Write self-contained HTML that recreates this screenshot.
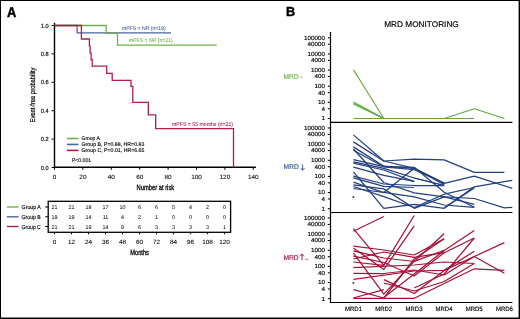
<!DOCTYPE html>
<html><head><meta charset="utf-8"><style>
html,body{margin:0;padding:0;background:#fff;}
svg{display:block;font-family:"Liberation Sans",sans-serif;will-change:transform;text-rendering:geometricPrecision;}
</style></head><body>
<svg width="520" height="319" viewBox="0 0 520 319">
<rect width="520" height="319" fill="#fff"/>
<rect x="0" y="0" width="520" height="319" fill="#000"/><rect x="1" y="1" width="517.6" height="316.5" fill="#fff"/>
<text x="6.90" y="16.70" font-size="14.2" fill="#000" stroke="#000" stroke-width="0.45" text-anchor="start" font-weight="bold" textLength="9.30" lengthAdjust="spacingAndGlyphs">A</text>
<text x="285.90" y="16.20" font-size="13.0" fill="#000" stroke="#000" stroke-width="0.45" text-anchor="start" font-weight="bold" textLength="9.20" lengthAdjust="spacingAndGlyphs">B</text>
<line x1="54.50" y1="22.70" x2="54.50" y2="168.20" stroke="#000" stroke-width="1.4"/>
<line x1="53.80" y1="167.20" x2="255.90" y2="167.20" stroke="#000" stroke-width="1.4"/>
<line x1="51.60" y1="167.50" x2="54.50" y2="167.50" stroke="#000" stroke-width="1.0"/>
<text x="48.60" y="169.60" font-size="6.1" fill="#000" stroke="#000" stroke-width="0.15" text-anchor="end" font-weight="normal" textLength="7.80" lengthAdjust="spacingAndGlyphs">0.0</text>
<line x1="51.60" y1="139.10" x2="54.50" y2="139.10" stroke="#000" stroke-width="1.0"/>
<text x="48.60" y="141.20" font-size="6.1" fill="#000" stroke="#000" stroke-width="0.15" text-anchor="end" font-weight="normal" textLength="7.80" lengthAdjust="spacingAndGlyphs">0.2</text>
<line x1="51.60" y1="110.70" x2="54.50" y2="110.70" stroke="#000" stroke-width="1.0"/>
<text x="48.60" y="112.80" font-size="6.1" fill="#000" stroke="#000" stroke-width="0.15" text-anchor="end" font-weight="normal" textLength="7.80" lengthAdjust="spacingAndGlyphs">0.4</text>
<line x1="51.60" y1="82.30" x2="54.50" y2="82.30" stroke="#000" stroke-width="1.0"/>
<text x="48.60" y="84.40" font-size="6.1" fill="#000" stroke="#000" stroke-width="0.15" text-anchor="end" font-weight="normal" textLength="7.80" lengthAdjust="spacingAndGlyphs">0.6</text>
<line x1="51.60" y1="53.90" x2="54.50" y2="53.90" stroke="#000" stroke-width="1.0"/>
<text x="48.60" y="56.00" font-size="6.1" fill="#000" stroke="#000" stroke-width="0.15" text-anchor="end" font-weight="normal" textLength="7.80" lengthAdjust="spacingAndGlyphs">0.8</text>
<line x1="51.60" y1="25.50" x2="54.50" y2="25.50" stroke="#000" stroke-width="1.0"/>
<text x="48.60" y="27.60" font-size="6.1" fill="#000" stroke="#000" stroke-width="0.15" text-anchor="end" font-weight="normal" textLength="7.80" lengthAdjust="spacingAndGlyphs">1.0</text>
<line x1="54.50" y1="167.50" x2="54.50" y2="169.80" stroke="#000" stroke-width="1.0"/>
<text x="54.50" y="178.90" font-size="6.2" fill="#000" stroke="#000" stroke-width="0.06" text-anchor="middle" font-weight="normal" textLength="3.55" lengthAdjust="spacingAndGlyphs">0</text>
<line x1="82.90" y1="167.50" x2="82.90" y2="169.80" stroke="#000" stroke-width="1.0"/>
<text x="82.90" y="178.90" font-size="6.2" fill="#000" stroke="#000" stroke-width="0.06" text-anchor="middle" font-weight="normal" textLength="7.10" lengthAdjust="spacingAndGlyphs">20</text>
<line x1="111.30" y1="167.50" x2="111.30" y2="169.80" stroke="#000" stroke-width="1.0"/>
<text x="111.30" y="178.90" font-size="6.2" fill="#000" stroke="#000" stroke-width="0.06" text-anchor="middle" font-weight="normal" textLength="7.10" lengthAdjust="spacingAndGlyphs">40</text>
<line x1="139.70" y1="167.50" x2="139.70" y2="169.80" stroke="#000" stroke-width="1.0"/>
<text x="139.70" y="178.90" font-size="6.2" fill="#000" stroke="#000" stroke-width="0.06" text-anchor="middle" font-weight="normal" textLength="7.10" lengthAdjust="spacingAndGlyphs">60</text>
<line x1="168.10" y1="167.50" x2="168.10" y2="169.80" stroke="#000" stroke-width="1.0"/>
<text x="168.10" y="178.90" font-size="6.2" fill="#000" stroke="#000" stroke-width="0.06" text-anchor="middle" font-weight="normal" textLength="7.10" lengthAdjust="spacingAndGlyphs">80</text>
<line x1="196.50" y1="167.50" x2="196.50" y2="169.80" stroke="#000" stroke-width="1.0"/>
<text x="196.50" y="178.90" font-size="6.2" fill="#000" stroke="#000" stroke-width="0.06" text-anchor="middle" font-weight="normal" textLength="10.65" lengthAdjust="spacingAndGlyphs">100</text>
<line x1="224.90" y1="167.50" x2="224.90" y2="169.80" stroke="#000" stroke-width="1.0"/>
<text x="224.90" y="178.90" font-size="6.2" fill="#000" stroke="#000" stroke-width="0.06" text-anchor="middle" font-weight="normal" textLength="10.65" lengthAdjust="spacingAndGlyphs">120</text>
<line x1="253.30" y1="167.50" x2="253.30" y2="169.80" stroke="#000" stroke-width="1.0"/>
<text x="253.30" y="178.90" font-size="6.2" fill="#000" stroke="#000" stroke-width="0.06" text-anchor="middle" font-weight="normal" textLength="10.65" lengthAdjust="spacingAndGlyphs">140</text>
<text transform="translate(35.0,95) rotate(-90)" x="0" y="0" font-size="7" stroke="#000" stroke-width="0.22" text-anchor="middle" textLength="55" lengthAdjust="spacingAndGlyphs">Event-free probability</text>
<text x="136.60" y="190.40" font-size="7.7" fill="#000" stroke="#000" stroke-width="0.3" text-anchor="start" font-weight="normal" textLength="37.60" lengthAdjust="spacingAndGlyphs">Number at risk</text>
<path d="M54.5 25.5 H77.1 V32.8 H171" fill="none" stroke="#4a669c" stroke-width="1.3"/>
<path d="M54.5 25.5 H106.1 V33.3 H117.5 V45.2 H216.8" fill="none" stroke="#6fb04a" stroke-width="1.3"/>
<path d="M54.5 25.5 H81.4 V39 H89.4 V45.9 H90.1 V52.8 H91.1 V59.5 H92.2 V66.2 H106.7 V73.3 H112.2 V80.4 H131 V86.4 H132.8 V102.4 H148.3 V114.9 H155.7 V128.6 H233.5 V167.5" fill="none" stroke="#ae1f45" stroke-width="1.3"/>
<text x="121.90" y="30.20" font-size="5.4" fill="#4a669c" stroke="#4a669c" stroke-width="0.08" text-anchor="start" font-weight="normal" textLength="43.80" lengthAdjust="spacingAndGlyphs">mPFS = NR (n=19)</text>
<text x="128.80" y="42.10" font-size="5.4" fill="#6fb04a" stroke="#6fb04a" stroke-width="0.08" text-anchor="start" font-weight="normal" textLength="43.90" lengthAdjust="spacingAndGlyphs">mPFS = NR (n=21)</text>
<text x="172.00" y="125.60" font-size="5.4" fill="#ae1f45" stroke="#ae1f45" stroke-width="0.08" text-anchor="start" font-weight="normal" textLength="61.00" lengthAdjust="spacingAndGlyphs">mPFS = 55 months (n=21)</text>
<line x1="66.90" y1="138.50" x2="78.50" y2="138.50" stroke="#6fb04a" stroke-width="1.6"/>
<text x="81.50" y="140.40" font-size="5.4" fill="#000" stroke="#000" stroke-width="0.13" text-anchor="start" font-weight="normal" textLength="18.34" lengthAdjust="spacingAndGlyphs">Group A</text>
<line x1="66.90" y1="144.45" x2="78.50" y2="144.45" stroke="#4a669c" stroke-width="1.6"/>
<text x="81.50" y="146.35" font-size="5.4" fill="#000" stroke="#000" stroke-width="0.13" text-anchor="start" font-weight="normal" textLength="62.88" lengthAdjust="spacingAndGlyphs">Group B, P=0.88, HR=0.83</text>
<line x1="66.90" y1="150.40" x2="78.50" y2="150.40" stroke="#ae1f45" stroke-width="1.6"/>
<text x="81.50" y="152.30" font-size="5.4" fill="#000" stroke="#000" stroke-width="0.13" text-anchor="start" font-weight="normal" textLength="62.88" lengthAdjust="spacingAndGlyphs">Group C, P=0.01, HR=6.65</text>
<text x="71.90" y="162.00" font-size="5.4" fill="#000" stroke="#000" stroke-width="0.13" text-anchor="start" font-weight="normal" textLength="19.30" lengthAdjust="spacingAndGlyphs">P&lt;0.001</text>
<rect x="48.2" y="201.3" width="182.4" height="31" fill="none" stroke="#000" stroke-width="1.3"/>
<line x1="45.20" y1="207.00" x2="48.20" y2="207.00" stroke="#000" stroke-width="1.0"/>
<line x1="6.90" y1="207.00" x2="18.60" y2="207.00" stroke="#6fb04a" stroke-width="1.4"/>
<text x="21.60" y="209.00" font-size="5.8" fill="#000" stroke="#000" stroke-width="0.15" text-anchor="start" font-weight="normal" textLength="19.20" lengthAdjust="spacingAndGlyphs">Group A</text>
<text x="54.50" y="209.00" font-size="5.4" fill="#000" stroke="#000" stroke-width="0.03" text-anchor="middle" font-weight="normal">21</text>
<text x="71.51" y="209.00" font-size="5.4" fill="#000" stroke="#000" stroke-width="0.03" text-anchor="middle" font-weight="normal">21</text>
<text x="88.52" y="209.00" font-size="5.4" fill="#000" stroke="#000" stroke-width="0.03" text-anchor="middle" font-weight="normal">18</text>
<text x="105.53" y="209.00" font-size="5.4" fill="#000" stroke="#000" stroke-width="0.03" text-anchor="middle" font-weight="normal">17</text>
<text x="122.54" y="209.00" font-size="5.4" fill="#000" stroke="#000" stroke-width="0.03" text-anchor="middle" font-weight="normal">10</text>
<text x="139.55" y="209.00" font-size="5.4" fill="#000" stroke="#000" stroke-width="0.03" text-anchor="middle" font-weight="normal">6</text>
<text x="156.56" y="209.00" font-size="5.4" fill="#000" stroke="#000" stroke-width="0.03" text-anchor="middle" font-weight="normal">6</text>
<text x="173.57" y="209.00" font-size="5.4" fill="#000" stroke="#000" stroke-width="0.03" text-anchor="middle" font-weight="normal">5</text>
<text x="190.58" y="209.00" font-size="5.4" fill="#000" stroke="#000" stroke-width="0.03" text-anchor="middle" font-weight="normal">4</text>
<text x="207.59" y="209.00" font-size="5.4" fill="#000" stroke="#000" stroke-width="0.03" text-anchor="middle" font-weight="normal">2</text>
<text x="224.60" y="209.00" font-size="5.4" fill="#000" stroke="#000" stroke-width="0.03" text-anchor="middle" font-weight="normal">0</text>
<line x1="45.20" y1="216.80" x2="48.20" y2="216.80" stroke="#000" stroke-width="1.0"/>
<line x1="6.90" y1="216.80" x2="18.60" y2="216.80" stroke="#4a669c" stroke-width="1.4"/>
<text x="21.60" y="218.80" font-size="5.8" fill="#000" stroke="#000" stroke-width="0.15" text-anchor="start" font-weight="normal" textLength="19.20" lengthAdjust="spacingAndGlyphs">Group B</text>
<text x="54.50" y="218.80" font-size="5.4" fill="#000" stroke="#000" stroke-width="0.03" text-anchor="middle" font-weight="normal">19</text>
<text x="71.51" y="218.80" font-size="5.4" fill="#000" stroke="#000" stroke-width="0.03" text-anchor="middle" font-weight="normal">19</text>
<text x="88.52" y="218.80" font-size="5.4" fill="#000" stroke="#000" stroke-width="0.03" text-anchor="middle" font-weight="normal">14</text>
<text x="105.53" y="218.80" font-size="5.4" fill="#000" stroke="#000" stroke-width="0.03" text-anchor="middle" font-weight="normal">11</text>
<text x="122.54" y="218.80" font-size="5.4" fill="#000" stroke="#000" stroke-width="0.03" text-anchor="middle" font-weight="normal">4</text>
<text x="139.55" y="218.80" font-size="5.4" fill="#000" stroke="#000" stroke-width="0.03" text-anchor="middle" font-weight="normal">2</text>
<text x="156.56" y="218.80" font-size="5.4" fill="#000" stroke="#000" stroke-width="0.03" text-anchor="middle" font-weight="normal">1</text>
<text x="173.57" y="218.80" font-size="5.4" fill="#000" stroke="#000" stroke-width="0.03" text-anchor="middle" font-weight="normal">0</text>
<text x="190.58" y="218.80" font-size="5.4" fill="#000" stroke="#000" stroke-width="0.03" text-anchor="middle" font-weight="normal">0</text>
<text x="207.59" y="218.80" font-size="5.4" fill="#000" stroke="#000" stroke-width="0.03" text-anchor="middle" font-weight="normal">0</text>
<text x="224.60" y="218.80" font-size="5.4" fill="#000" stroke="#000" stroke-width="0.03" text-anchor="middle" font-weight="normal">0</text>
<line x1="45.20" y1="226.50" x2="48.20" y2="226.50" stroke="#000" stroke-width="1.0"/>
<line x1="6.90" y1="226.50" x2="18.60" y2="226.50" stroke="#ae1f45" stroke-width="1.4"/>
<text x="21.60" y="228.50" font-size="5.8" fill="#000" stroke="#000" stroke-width="0.15" text-anchor="start" font-weight="normal" textLength="19.20" lengthAdjust="spacingAndGlyphs">Group C</text>
<text x="54.50" y="228.50" font-size="5.4" fill="#000" stroke="#000" stroke-width="0.03" text-anchor="middle" font-weight="normal">21</text>
<text x="71.51" y="228.50" font-size="5.4" fill="#000" stroke="#000" stroke-width="0.03" text-anchor="middle" font-weight="normal">21</text>
<text x="88.52" y="228.50" font-size="5.4" fill="#000" stroke="#000" stroke-width="0.03" text-anchor="middle" font-weight="normal">19</text>
<text x="105.53" y="228.50" font-size="5.4" fill="#000" stroke="#000" stroke-width="0.03" text-anchor="middle" font-weight="normal">14</text>
<text x="122.54" y="228.50" font-size="5.4" fill="#000" stroke="#000" stroke-width="0.03" text-anchor="middle" font-weight="normal">9</text>
<text x="139.55" y="228.50" font-size="5.4" fill="#000" stroke="#000" stroke-width="0.03" text-anchor="middle" font-weight="normal">6</text>
<text x="156.56" y="228.50" font-size="5.4" fill="#000" stroke="#000" stroke-width="0.03" text-anchor="middle" font-weight="normal">3</text>
<text x="173.57" y="228.50" font-size="5.4" fill="#000" stroke="#000" stroke-width="0.03" text-anchor="middle" font-weight="normal">3</text>
<text x="190.58" y="228.50" font-size="5.4" fill="#000" stroke="#000" stroke-width="0.03" text-anchor="middle" font-weight="normal">3</text>
<text x="207.59" y="228.50" font-size="5.4" fill="#000" stroke="#000" stroke-width="0.03" text-anchor="middle" font-weight="normal">3</text>
<text x="224.60" y="228.50" font-size="5.4" fill="#000" stroke="#000" stroke-width="0.03" text-anchor="middle" font-weight="normal">1</text>
<line x1="54.50" y1="232.30" x2="54.50" y2="234.30" stroke="#000" stroke-width="1.0"/>
<text x="54.50" y="244.00" font-size="6.2" fill="#000" stroke="#000" stroke-width="0.06" text-anchor="middle" font-weight="normal" textLength="3.55" lengthAdjust="spacingAndGlyphs">0</text>
<line x1="71.51" y1="232.30" x2="71.51" y2="234.30" stroke="#000" stroke-width="1.0"/>
<text x="71.51" y="244.00" font-size="6.2" fill="#000" stroke="#000" stroke-width="0.06" text-anchor="middle" font-weight="normal" textLength="7.10" lengthAdjust="spacingAndGlyphs">12</text>
<line x1="88.52" y1="232.30" x2="88.52" y2="234.30" stroke="#000" stroke-width="1.0"/>
<text x="88.52" y="244.00" font-size="6.2" fill="#000" stroke="#000" stroke-width="0.06" text-anchor="middle" font-weight="normal" textLength="7.10" lengthAdjust="spacingAndGlyphs">24</text>
<line x1="105.53" y1="232.30" x2="105.53" y2="234.30" stroke="#000" stroke-width="1.0"/>
<text x="105.53" y="244.00" font-size="6.2" fill="#000" stroke="#000" stroke-width="0.06" text-anchor="middle" font-weight="normal" textLength="7.10" lengthAdjust="spacingAndGlyphs">36</text>
<line x1="122.54" y1="232.30" x2="122.54" y2="234.30" stroke="#000" stroke-width="1.0"/>
<text x="122.54" y="244.00" font-size="6.2" fill="#000" stroke="#000" stroke-width="0.06" text-anchor="middle" font-weight="normal" textLength="7.10" lengthAdjust="spacingAndGlyphs">48</text>
<line x1="139.55" y1="232.30" x2="139.55" y2="234.30" stroke="#000" stroke-width="1.0"/>
<text x="139.55" y="244.00" font-size="6.2" fill="#000" stroke="#000" stroke-width="0.06" text-anchor="middle" font-weight="normal" textLength="7.10" lengthAdjust="spacingAndGlyphs">60</text>
<line x1="156.56" y1="232.30" x2="156.56" y2="234.30" stroke="#000" stroke-width="1.0"/>
<text x="156.56" y="244.00" font-size="6.2" fill="#000" stroke="#000" stroke-width="0.06" text-anchor="middle" font-weight="normal" textLength="7.10" lengthAdjust="spacingAndGlyphs">72</text>
<line x1="173.57" y1="232.30" x2="173.57" y2="234.30" stroke="#000" stroke-width="1.0"/>
<text x="173.57" y="244.00" font-size="6.2" fill="#000" stroke="#000" stroke-width="0.06" text-anchor="middle" font-weight="normal" textLength="7.10" lengthAdjust="spacingAndGlyphs">84</text>
<line x1="190.58" y1="232.30" x2="190.58" y2="234.30" stroke="#000" stroke-width="1.0"/>
<text x="190.58" y="244.00" font-size="6.2" fill="#000" stroke="#000" stroke-width="0.06" text-anchor="middle" font-weight="normal" textLength="7.10" lengthAdjust="spacingAndGlyphs">96</text>
<line x1="207.59" y1="232.30" x2="207.59" y2="234.30" stroke="#000" stroke-width="1.0"/>
<text x="207.59" y="244.00" font-size="6.2" fill="#000" stroke="#000" stroke-width="0.06" text-anchor="middle" font-weight="normal" textLength="10.65" lengthAdjust="spacingAndGlyphs">108</text>
<line x1="224.60" y1="232.30" x2="224.60" y2="234.30" stroke="#000" stroke-width="1.0"/>
<text x="224.60" y="244.00" font-size="6.2" fill="#000" stroke="#000" stroke-width="0.06" text-anchor="middle" font-weight="normal" textLength="10.65" lengthAdjust="spacingAndGlyphs">120</text>
<text x="130.30" y="255.40" font-size="7.7" fill="#000" stroke="#000" stroke-width="0.3" text-anchor="start" font-weight="normal" textLength="18.60" lengthAdjust="spacingAndGlyphs">Months</text>
<text x="384.20" y="26.90" font-size="8.2" fill="#000" stroke="#000" stroke-width="0.15" text-anchor="start" font-weight="normal" textLength="74.60" lengthAdjust="spacingAndGlyphs">MRD MONITORING</text>
<line x1="330.50" y1="32.00" x2="330.50" y2="302.90" stroke="#000" stroke-width="1.2"/>
<line x1="329.90" y1="122.30" x2="512.40" y2="122.30" stroke="#000" stroke-width="1.15"/>
<line x1="327.80" y1="37.80" x2="330.50" y2="37.80" stroke="#000" stroke-width="1.0"/>
<text x="325.00" y="39.70" font-size="5.9" fill="#000" stroke="#000" stroke-width="0.15" text-anchor="end" font-weight="normal" textLength="21.00" lengthAdjust="spacingAndGlyphs">100000</text>
<line x1="327.80" y1="44.22" x2="330.50" y2="44.22" stroke="#000" stroke-width="1.0"/>
<text x="325.00" y="46.12" font-size="5.9" fill="#000" stroke="#000" stroke-width="0.15" text-anchor="end" font-weight="normal" textLength="17.50" lengthAdjust="spacingAndGlyphs">40000</text>
<line x1="327.80" y1="53.94" x2="330.50" y2="53.94" stroke="#000" stroke-width="1.0"/>
<text x="325.00" y="55.84" font-size="5.9" fill="#000" stroke="#000" stroke-width="0.15" text-anchor="end" font-weight="normal" textLength="17.50" lengthAdjust="spacingAndGlyphs">10000</text>
<line x1="327.80" y1="60.36" x2="330.50" y2="60.36" stroke="#000" stroke-width="1.0"/>
<text x="325.00" y="62.26" font-size="5.9" fill="#000" stroke="#000" stroke-width="0.15" text-anchor="end" font-weight="normal" textLength="14.00" lengthAdjust="spacingAndGlyphs">4000</text>
<line x1="327.80" y1="70.08" x2="330.50" y2="70.08" stroke="#000" stroke-width="1.0"/>
<text x="325.00" y="71.98" font-size="5.9" fill="#000" stroke="#000" stroke-width="0.15" text-anchor="end" font-weight="normal" textLength="14.00" lengthAdjust="spacingAndGlyphs">1000</text>
<line x1="327.80" y1="76.50" x2="330.50" y2="76.50" stroke="#000" stroke-width="1.0"/>
<text x="325.00" y="78.40" font-size="5.9" fill="#000" stroke="#000" stroke-width="0.15" text-anchor="end" font-weight="normal" textLength="10.50" lengthAdjust="spacingAndGlyphs">400</text>
<line x1="327.80" y1="86.22" x2="330.50" y2="86.22" stroke="#000" stroke-width="1.0"/>
<text x="325.00" y="88.12" font-size="5.9" fill="#000" stroke="#000" stroke-width="0.15" text-anchor="end" font-weight="normal" textLength="10.50" lengthAdjust="spacingAndGlyphs">100</text>
<line x1="327.80" y1="92.64" x2="330.50" y2="92.64" stroke="#000" stroke-width="1.0"/>
<text x="325.00" y="94.54" font-size="5.9" fill="#000" stroke="#000" stroke-width="0.15" text-anchor="end" font-weight="normal" textLength="7.00" lengthAdjust="spacingAndGlyphs">40</text>
<line x1="327.80" y1="102.36" x2="330.50" y2="102.36" stroke="#000" stroke-width="1.0"/>
<text x="325.00" y="104.26" font-size="5.9" fill="#000" stroke="#000" stroke-width="0.15" text-anchor="end" font-weight="normal" textLength="7.00" lengthAdjust="spacingAndGlyphs">10</text>
<line x1="327.80" y1="108.78" x2="330.50" y2="108.78" stroke="#000" stroke-width="1.0"/>
<text x="325.00" y="110.68" font-size="5.9" fill="#000" stroke="#000" stroke-width="0.15" text-anchor="end" font-weight="normal" textLength="3.50" lengthAdjust="spacingAndGlyphs">4</text>
<line x1="327.80" y1="118.50" x2="330.50" y2="118.50" stroke="#000" stroke-width="1.0"/>
<text x="325.00" y="120.40" font-size="5.9" fill="#000" stroke="#000" stroke-width="0.15" text-anchor="end" font-weight="normal" textLength="3.50" lengthAdjust="spacingAndGlyphs">1</text>
<line x1="329.90" y1="212.50" x2="512.40" y2="212.50" stroke="#000" stroke-width="1.15"/>
<line x1="327.80" y1="128.00" x2="330.50" y2="128.00" stroke="#000" stroke-width="1.0"/>
<text x="325.00" y="129.90" font-size="5.9" fill="#000" stroke="#000" stroke-width="0.15" text-anchor="end" font-weight="normal" textLength="21.00" lengthAdjust="spacingAndGlyphs">100000</text>
<line x1="327.80" y1="134.42" x2="330.50" y2="134.42" stroke="#000" stroke-width="1.0"/>
<text x="325.00" y="136.32" font-size="5.9" fill="#000" stroke="#000" stroke-width="0.15" text-anchor="end" font-weight="normal" textLength="17.50" lengthAdjust="spacingAndGlyphs">40000</text>
<line x1="327.80" y1="144.14" x2="330.50" y2="144.14" stroke="#000" stroke-width="1.0"/>
<text x="325.00" y="146.04" font-size="5.9" fill="#000" stroke="#000" stroke-width="0.15" text-anchor="end" font-weight="normal" textLength="17.50" lengthAdjust="spacingAndGlyphs">10000</text>
<line x1="327.80" y1="150.56" x2="330.50" y2="150.56" stroke="#000" stroke-width="1.0"/>
<text x="325.00" y="152.46" font-size="5.9" fill="#000" stroke="#000" stroke-width="0.15" text-anchor="end" font-weight="normal" textLength="14.00" lengthAdjust="spacingAndGlyphs">4000</text>
<line x1="327.80" y1="160.28" x2="330.50" y2="160.28" stroke="#000" stroke-width="1.0"/>
<text x="325.00" y="162.18" font-size="5.9" fill="#000" stroke="#000" stroke-width="0.15" text-anchor="end" font-weight="normal" textLength="14.00" lengthAdjust="spacingAndGlyphs">1000</text>
<line x1="327.80" y1="166.70" x2="330.50" y2="166.70" stroke="#000" stroke-width="1.0"/>
<text x="325.00" y="168.60" font-size="5.9" fill="#000" stroke="#000" stroke-width="0.15" text-anchor="end" font-weight="normal" textLength="10.50" lengthAdjust="spacingAndGlyphs">400</text>
<line x1="327.80" y1="176.42" x2="330.50" y2="176.42" stroke="#000" stroke-width="1.0"/>
<text x="325.00" y="178.32" font-size="5.9" fill="#000" stroke="#000" stroke-width="0.15" text-anchor="end" font-weight="normal" textLength="10.50" lengthAdjust="spacingAndGlyphs">100</text>
<line x1="327.80" y1="182.84" x2="330.50" y2="182.84" stroke="#000" stroke-width="1.0"/>
<text x="325.00" y="184.74" font-size="5.9" fill="#000" stroke="#000" stroke-width="0.15" text-anchor="end" font-weight="normal" textLength="7.00" lengthAdjust="spacingAndGlyphs">40</text>
<line x1="327.80" y1="192.56" x2="330.50" y2="192.56" stroke="#000" stroke-width="1.0"/>
<text x="325.00" y="194.46" font-size="5.9" fill="#000" stroke="#000" stroke-width="0.15" text-anchor="end" font-weight="normal" textLength="7.00" lengthAdjust="spacingAndGlyphs">10</text>
<line x1="327.80" y1="198.98" x2="330.50" y2="198.98" stroke="#000" stroke-width="1.0"/>
<text x="325.00" y="200.88" font-size="5.9" fill="#000" stroke="#000" stroke-width="0.15" text-anchor="end" font-weight="normal" textLength="3.50" lengthAdjust="spacingAndGlyphs">4</text>
<line x1="327.80" y1="208.70" x2="330.50" y2="208.70" stroke="#000" stroke-width="1.0"/>
<text x="325.00" y="210.60" font-size="5.9" fill="#000" stroke="#000" stroke-width="0.15" text-anchor="end" font-weight="normal" textLength="3.50" lengthAdjust="spacingAndGlyphs">1</text>
<line x1="329.90" y1="302.50" x2="512.40" y2="302.50" stroke="#000" stroke-width="1.15"/>
<line x1="327.80" y1="218.00" x2="330.50" y2="218.00" stroke="#000" stroke-width="1.0"/>
<text x="325.00" y="219.90" font-size="5.9" fill="#000" stroke="#000" stroke-width="0.15" text-anchor="end" font-weight="normal" textLength="21.00" lengthAdjust="spacingAndGlyphs">100000</text>
<line x1="327.80" y1="224.42" x2="330.50" y2="224.42" stroke="#000" stroke-width="1.0"/>
<text x="325.00" y="226.32" font-size="5.9" fill="#000" stroke="#000" stroke-width="0.15" text-anchor="end" font-weight="normal" textLength="17.50" lengthAdjust="spacingAndGlyphs">40000</text>
<line x1="327.80" y1="234.14" x2="330.50" y2="234.14" stroke="#000" stroke-width="1.0"/>
<text x="325.00" y="236.04" font-size="5.9" fill="#000" stroke="#000" stroke-width="0.15" text-anchor="end" font-weight="normal" textLength="17.50" lengthAdjust="spacingAndGlyphs">10000</text>
<line x1="327.80" y1="240.56" x2="330.50" y2="240.56" stroke="#000" stroke-width="1.0"/>
<text x="325.00" y="242.46" font-size="5.9" fill="#000" stroke="#000" stroke-width="0.15" text-anchor="end" font-weight="normal" textLength="14.00" lengthAdjust="spacingAndGlyphs">4000</text>
<line x1="327.80" y1="250.28" x2="330.50" y2="250.28" stroke="#000" stroke-width="1.0"/>
<text x="325.00" y="252.18" font-size="5.9" fill="#000" stroke="#000" stroke-width="0.15" text-anchor="end" font-weight="normal" textLength="14.00" lengthAdjust="spacingAndGlyphs">1000</text>
<line x1="327.80" y1="256.70" x2="330.50" y2="256.70" stroke="#000" stroke-width="1.0"/>
<text x="325.00" y="258.60" font-size="5.9" fill="#000" stroke="#000" stroke-width="0.15" text-anchor="end" font-weight="normal" textLength="10.50" lengthAdjust="spacingAndGlyphs">400</text>
<line x1="327.80" y1="266.42" x2="330.50" y2="266.42" stroke="#000" stroke-width="1.0"/>
<text x="325.00" y="268.32" font-size="5.9" fill="#000" stroke="#000" stroke-width="0.15" text-anchor="end" font-weight="normal" textLength="10.50" lengthAdjust="spacingAndGlyphs">100</text>
<line x1="327.80" y1="272.84" x2="330.50" y2="272.84" stroke="#000" stroke-width="1.0"/>
<text x="325.00" y="274.74" font-size="5.9" fill="#000" stroke="#000" stroke-width="0.15" text-anchor="end" font-weight="normal" textLength="7.00" lengthAdjust="spacingAndGlyphs">40</text>
<line x1="327.80" y1="282.56" x2="330.50" y2="282.56" stroke="#000" stroke-width="1.0"/>
<text x="325.00" y="284.46" font-size="5.9" fill="#000" stroke="#000" stroke-width="0.15" text-anchor="end" font-weight="normal" textLength="7.00" lengthAdjust="spacingAndGlyphs">10</text>
<line x1="327.80" y1="288.98" x2="330.50" y2="288.98" stroke="#000" stroke-width="1.0"/>
<text x="325.00" y="290.88" font-size="5.9" fill="#000" stroke="#000" stroke-width="0.15" text-anchor="end" font-weight="normal" textLength="3.50" lengthAdjust="spacingAndGlyphs">4</text>
<line x1="327.80" y1="298.70" x2="330.50" y2="298.70" stroke="#000" stroke-width="1.0"/>
<text x="325.00" y="300.60" font-size="5.9" fill="#000" stroke="#000" stroke-width="0.15" text-anchor="end" font-weight="normal" textLength="3.50" lengthAdjust="spacingAndGlyphs">1</text>
<text x="283.50" y="79.30" font-size="7.0" fill="#6cb24c" stroke="#6cb24c" stroke-width="0.15" text-anchor="start" font-weight="normal" textLength="19.00" lengthAdjust="spacingAndGlyphs">MRD -</text>
<text x="283.60" y="169.30" font-size="7.0" fill="#34548f" stroke="#34548f" stroke-width="0.15" text-anchor="start" font-weight="normal" textLength="15.20" lengthAdjust="spacingAndGlyphs">MRD</text>
<text x="283.50" y="259.60" font-size="7.0" fill="#a3123a" stroke="#a3123a" stroke-width="0.15" text-anchor="start" font-weight="normal" textLength="15.20" lengthAdjust="spacingAndGlyphs">MRD</text>
<path d="M302.6 164.3 V170 M300.6 168 L302.6 170.4 L304.6 168" fill="none" stroke="#34548f" stroke-width="0.9"/>
<path d="M302 260.2 V254 M300.2 256.2 L302 253.9 L303.8 256.2" fill="none" stroke="#a3123a" stroke-width="0.9"/>
<path d="M304.9 259.3 Q305.8 258.5 306.7 259.3 T308.4 259.3" fill="none" stroke="#a3123a" stroke-width="0.7"/>
<text x="353.50" y="310.50" font-size="6.3" fill="#000" stroke="#000" stroke-width="0.15" text-anchor="middle" font-weight="normal" textLength="16.90" lengthAdjust="spacingAndGlyphs">MRD1</text>
<text x="383.70" y="310.50" font-size="6.3" fill="#000" stroke="#000" stroke-width="0.15" text-anchor="middle" font-weight="normal" textLength="16.90" lengthAdjust="spacingAndGlyphs">MRD2</text>
<text x="414.00" y="310.50" font-size="6.3" fill="#000" stroke="#000" stroke-width="0.15" text-anchor="middle" font-weight="normal" textLength="16.90" lengthAdjust="spacingAndGlyphs">MRD3</text>
<text x="444.00" y="310.50" font-size="6.3" fill="#000" stroke="#000" stroke-width="0.15" text-anchor="middle" font-weight="normal" textLength="16.90" lengthAdjust="spacingAndGlyphs">MRD4</text>
<text x="474.20" y="310.50" font-size="6.3" fill="#000" stroke="#000" stroke-width="0.15" text-anchor="middle" font-weight="normal" textLength="16.90" lengthAdjust="spacingAndGlyphs">MRD5</text>
<text x="504.40" y="310.50" font-size="6.3" fill="#000" stroke="#000" stroke-width="0.15" text-anchor="middle" font-weight="normal" textLength="16.90" lengthAdjust="spacingAndGlyphs">MRD6</text>
<path d="M353.4 69.6 L383.8 118.5" fill="none" stroke="#62a83e" stroke-width="1.05" stroke-linejoin="round"/>
<path d="M353.4 101.9 L383.8 118.5" fill="none" stroke="#62a83e" stroke-width="1.05" stroke-linejoin="round"/>
<path d="M353.4 102.9 L383.8 118.5" fill="none" stroke="#62a83e" stroke-width="1.05" stroke-linejoin="round"/>
<path d="M353.4 104.0 L383.8 118.5" fill="none" stroke="#62a83e" stroke-width="1.05" stroke-linejoin="round"/>
<path d="M353.4 118.5 L474.3 118.5" fill="none" stroke="#62a83e" stroke-width="1.05" stroke-linejoin="round"/>
<path d="M444.2 118.5 L474.3 108.7 L504.4 118.5" fill="none" stroke="#62a83e" stroke-width="1.05" stroke-linejoin="round"/>
<path d="M353.4 134.9 L383.8 161.0 L414.2 159.2 L444.2 159.9 L474.3 172.3 L504.4 172.3" fill="none" stroke="#223f80" stroke-width="1.25" stroke-linejoin="round"/>
<path d="M353.4 141.9 L383.8 161.0 L414.2 168.3 L444.2 183.4 L474.3 176.1 L512.3 188.3" fill="none" stroke="#223f80" stroke-width="1.25" stroke-linejoin="round"/>
<path d="M353.4 146.9 L383.8 166.2 L414.2 168.3 L444.2 184.8" fill="none" stroke="#223f80" stroke-width="1.25" stroke-linejoin="round"/>
<path d="M353.4 149.0 L383.8 182.5 L414.2 192.9 L444.2 196.9 L474.3 204.3" fill="none" stroke="#223f80" stroke-width="1.25" stroke-linejoin="round"/>
<path d="M353.4 159.7 L383.8 166.6 L414.2 167.3 L444.2 192.3 L474.3 207.3" fill="none" stroke="#223f80" stroke-width="1.25" stroke-linejoin="round"/>
<path d="M353.4 161.8 L383.8 168.3 L414.2 178.0 L444.2 185.5" fill="none" stroke="#223f80" stroke-width="1.25" stroke-linejoin="round"/>
<path d="M353.4 167.2 L383.8 175.4 L414.2 181.4" fill="none" stroke="#223f80" stroke-width="1.25" stroke-linejoin="round"/>
<path d="M353.4 171.9 L383.8 208.3 L414.2 204.3 L444.2 208.3 L474.3 186.8 L512.3 180.3" fill="none" stroke="#223f80" stroke-width="1.25" stroke-linejoin="round"/>
<path d="M353.4 176.2 L383.8 184.0 L414.2 185.5 L444.2 185.5" fill="none" stroke="#223f80" stroke-width="1.25" stroke-linejoin="round"/>
<path d="M353.4 177.8 L383.8 186.4 L414.2 187.5" fill="none" stroke="#223f80" stroke-width="1.25" stroke-linejoin="round"/>
<path d="M353.4 182.2 L383.8 192.5 L414.2 168.3 L444.2 183.4" fill="none" stroke="#223f80" stroke-width="1.25" stroke-linejoin="round"/>
<path d="M353.4 184.8 L383.8 188.9 L414.2 208.3 L444.2 196.9 L474.3 198.5 L504.4 207.9 L512.3 207.3" fill="none" stroke="#223f80" stroke-width="1.25" stroke-linejoin="round"/>
<path d="M353.4 186.5 L383.8 196.7 L414.2 207.5 L444.2 194.2 L474.3 187.5" fill="none" stroke="#223f80" stroke-width="1.25" stroke-linejoin="round"/>
<path d="M353.4 188.5 L383.8 192.3 L414.2 196.9 L444.2 205.0 L474.3 207.3" fill="none" stroke="#223f80" stroke-width="1.25" stroke-linejoin="round"/>
<path d="M414.2 178.0 L444.2 185.5" fill="none" stroke="#223f80" stroke-width="1.25" stroke-linejoin="round"/>
<path d="M353.4 150.2 L383.8 166.8 L414.2 169.7 L444.2 183.0" fill="none" stroke="#223f80" stroke-width="1.25" stroke-linejoin="round"/>
<path d="M353.4 163.2 L383.8 170.0 L414.2 181.7" fill="none" stroke="#223f80" stroke-width="1.25" stroke-linejoin="round"/>
<path d="M444.2 207.8 L474.3 188.0" fill="none" stroke="#223f80" stroke-width="1.25" stroke-linejoin="round"/>
<circle cx="353.4" cy="197.1" r="1.0" fill="#223f80"/>
<path d="M353.4 231.2 L383.8 216.5" fill="none" stroke="#a3123a" stroke-width="1.25" stroke-linejoin="round"/>
<path d="M353.4 228.6 L383.8 265.4 L414.2 215.5" fill="none" stroke="#a3123a" stroke-width="1.25" stroke-linejoin="round"/>
<path d="M353.4 246.2 L383.8 250.0 L414.2 255.0 L444.2 238.8" fill="none" stroke="#a3123a" stroke-width="1.25" stroke-linejoin="round"/>
<path d="M353.4 248.0 L383.8 269.5 L414.2 225.8" fill="none" stroke="#a3123a" stroke-width="1.25" stroke-linejoin="round"/>
<path d="M353.4 250.8 L383.8 258.0 L414.2 261.5 L444.2 233.5" fill="none" stroke="#a3123a" stroke-width="1.25" stroke-linejoin="round"/>
<path d="M353.4 253.0 L383.8 294.2 L414.2 261.4 L444.2 250.4 L474.3 230.4" fill="none" stroke="#a3123a" stroke-width="1.25" stroke-linejoin="round"/>
<path d="M353.4 256.2 L383.8 262.5 L414.2 276.0 L444.2 252.7 L474.3 238.0" fill="none" stroke="#a3123a" stroke-width="1.25" stroke-linejoin="round"/>
<path d="M353.4 259.0 L383.8 252.0 L414.2 257.3 L444.2 252.7" fill="none" stroke="#a3123a" stroke-width="1.25" stroke-linejoin="round"/>
<path d="M353.4 262.0 L383.8 265.4" fill="none" stroke="#a3123a" stroke-width="1.25" stroke-linejoin="round"/>
<path d="M353.4 267.7 L414.2 265.0 L444.2 262.0 L474.3 263.5" fill="none" stroke="#a3123a" stroke-width="1.25" stroke-linejoin="round"/>
<path d="M353.4 273.3 L383.8 273.5 L414.2 270.0 L444.2 275.0 L474.3 256.5 L504.4 242.6" fill="none" stroke="#a3123a" stroke-width="1.25" stroke-linejoin="round"/>
<path d="M353.4 279.4 L414.2 271.0 L444.2 270.4 L474.3 256.5 L504.4 273.2" fill="none" stroke="#a3123a" stroke-width="1.25" stroke-linejoin="round"/>
<path d="M353.4 289.6 L383.8 298.0" fill="none" stroke="#a3123a" stroke-width="1.25" stroke-linejoin="round"/>
<path d="M353.4 298.0 L383.8 289.6" fill="none" stroke="#a3123a" stroke-width="1.25" stroke-linejoin="round"/>
<path d="M353.4 298.3 L414.2 298.3 L444.2 283.5 L474.3 268.8 L504.4 270.3" fill="none" stroke="#a3123a" stroke-width="1.25" stroke-linejoin="round"/>
<path d="M383.8 279.6 L414.2 293.5 L444.2 270.4 L474.3 251.2" fill="none" stroke="#a3123a" stroke-width="1.25" stroke-linejoin="round"/>
<path d="M383.8 298.0 L414.2 259.0 L444.2 238.8" fill="none" stroke="#a3123a" stroke-width="1.25" stroke-linejoin="round"/>
<path d="M383.8 297.5 L414.2 274.0 L444.2 250.4" fill="none" stroke="#a3123a" stroke-width="1.25" stroke-linejoin="round"/>
<path d="M414.2 288.0 L444.2 274.0 L474.3 238.0" fill="none" stroke="#a3123a" stroke-width="1.25" stroke-linejoin="round"/>
<path d="M383.8 283.0 L414.2 291.0 L444.2 281.5 L474.3 263.5" fill="none" stroke="#a3123a" stroke-width="1.25" stroke-linejoin="round"/>
<circle cx="353.4" cy="282.9" r="1.0" fill="#a3123a"/>
</svg>
</body></html>
